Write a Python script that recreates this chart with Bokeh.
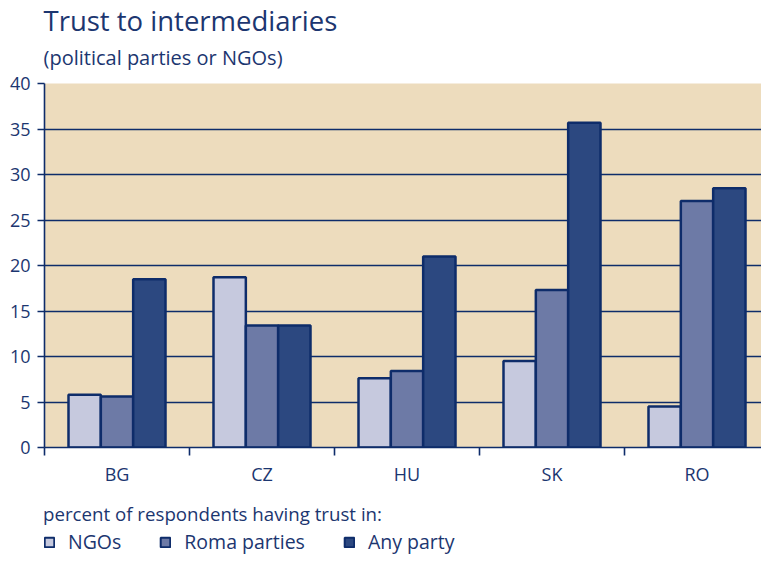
import numpy as np
from bokeh.plotting import figure
from bokeh.layouts import column
from bokeh.models import (Range1d, FixedTicker, Title, Legend, LegendItem,
                          ColumnDataSource)
from bokeh.embed import file_html
from bokeh.resources import INLINE

# ---- data ----
countries = ["BG", "CZ", "HU", "SK", "RO"]
ngos = [5.8, 18.7, 7.6, 9.5, 4.5]
roma_parties = [5.6, 13.4, 8.4, 17.3, 27.1]
any_party = [18.5, 13.4, 21.0, 35.7, 28.5]
series_names = ["NGOs", "Roma parties", "Any party"]
y_ticks = [0, 5, 10, 15, 20, 25, 30, 35, 40]

title_text = "Trust to intermediaries"
subtitle_text = "(political parties or NGOs)"
legend_title = "percent of respondents having trust in:"

# ---- style ----
FONT = "Open Sans"
TXT = "#1c3670"
NAVY = "#0e2c6a"
BG = "#eddcbd"
COLORS = ["#c6c9de", "#6d7aa6", "#2c4880"]
BAR_W = 0.223

p = figure(frame_width=717, frame_height=364, output_backend="svg",
           toolbar_location=None,
           x_range=Range1d(0, 717 / 145), y_range=Range1d(0, 40),
           min_border_left=44, min_border_right=0, min_border_top=83,
           min_border_bottom=50)
p.title.visible = False
p.background_fill_color = BG
p.border_fill_color = "white"
p.outline_line_color = None

centers = np.arange(len(countries)) + 0.5
series = [ngos, roma_parties, any_party]
for i, vals in enumerate(series):
    src = ColumnDataSource(dict(x=centers + (i - 1) * BAR_W, top=vals))
    p.vbar(x="x", top="top", bottom=0, width=BAR_W, source=src,
           fill_color=COLORS[i], line_color=NAVY, line_width=2.5)

# grid
p.xgrid.visible = False
p.ygrid.ticker = FixedTicker(ticks=y_ticks)
p.ygrid.grid_line_color = NAVY
p.ygrid.grid_line_width = 1.6

# y axis
p.yaxis.ticker = FixedTicker(ticks=y_ticks)
p.yaxis.axis_line_color = NAVY
p.yaxis.axis_line_width = 1.6
p.yaxis.major_tick_line_color = NAVY
p.yaxis.major_tick_line_width = 1.6
p.yaxis.major_tick_out = 7
p.yaxis.major_tick_in = 0
p.yaxis.minor_tick_line_color = None
p.yaxis.major_label_text_font = FONT
p.yaxis.major_label_text_font_size = "18px"
p.yaxis.major_label_text_color = TXT
p.yaxis.major_label_standoff = 7

# x axis
p.xaxis.ticker = FixedTicker(ticks=list(centers),
                             minor_ticks=list(range(len(countries) + 1)))
p.xaxis.major_label_overrides = {float(c): n for c, n in zip(centers, countries)}
p.xaxis.axis_line_color = NAVY
p.xaxis.axis_line_width = 1.6
p.xaxis.major_tick_line_color = None
p.xaxis.major_tick_out = 0
p.xaxis.major_tick_in = 0
p.xaxis.minor_tick_line_color = NAVY
p.xaxis.minor_tick_line_width = 1.6
p.xaxis.minor_tick_out = 8
p.xaxis.minor_tick_in = 0
p.xaxis.major_label_text_font = FONT
p.xaxis.major_label_text_font_size = "18px"
p.xaxis.major_label_text_color = TXT
p.xaxis.major_label_standoff = 6

# titles (first added sits nearest the plot)
p.add_layout(Title(text=subtitle_text, text_font=FONT, text_font_size="20px",
                   text_color=TXT, text_font_style="normal", align="left",
                   offset=-1, standoff=26), "above")
p.add_layout(Title(text=title_text, text_font=FONT, text_font_size="27.5px",
                   text_color=TXT, text_font_style="normal", align="left",
                   offset=-1, standoff=-21), "above")

# ---- legend strip (separate small figure; its bars lie outside its view) ----
lg = figure(width=761, height=72, output_backend="svg", toolbar_location=None,
            x_range=Range1d(-100, -95), y_range=Range1d(100, 200),
            min_border=0)
lg.title.visible = False
lg.axis.visible = False
lg.grid.visible = False
lg.outline_line_color = None
lg.background_fill_color = "white"
lg.border_fill_color = "white"
items = []
for i, (vals, name) in enumerate(zip(series, series_names)):
    src = ColumnDataSource(dict(x=centers + (i - 1) * BAR_W, top=vals))
    r = lg.vbar(x="x", top="top", bottom=0, width=BAR_W, source=src,
                fill_color=COLORS[i], line_color=NAVY, line_width=2)
    items.append(LegendItem(label=name, renderers=[r]))

legend = Legend(items=items, orientation="horizontal", location=(-1, 14),
                title=legend_title, title_text_font=FONT,
                title_text_font_size="18.7px", title_text_color=TXT,
                title_text_font_style="normal", title_standoff=2,
                label_text_font=FONT, label_text_font_size="19.5px",
                label_text_color=TXT, label_standoff=13, spacing=38,
                label_height=20,
                glyph_width=12, glyph_height=12, padding=0, margin=0,
                border_line_color=None, background_fill_alpha=0)
lg.add_layout(legend, "center")

layout = column(p, lg, spacing=0)
open("out.html", "w").write(file_html(layout, INLINE))
